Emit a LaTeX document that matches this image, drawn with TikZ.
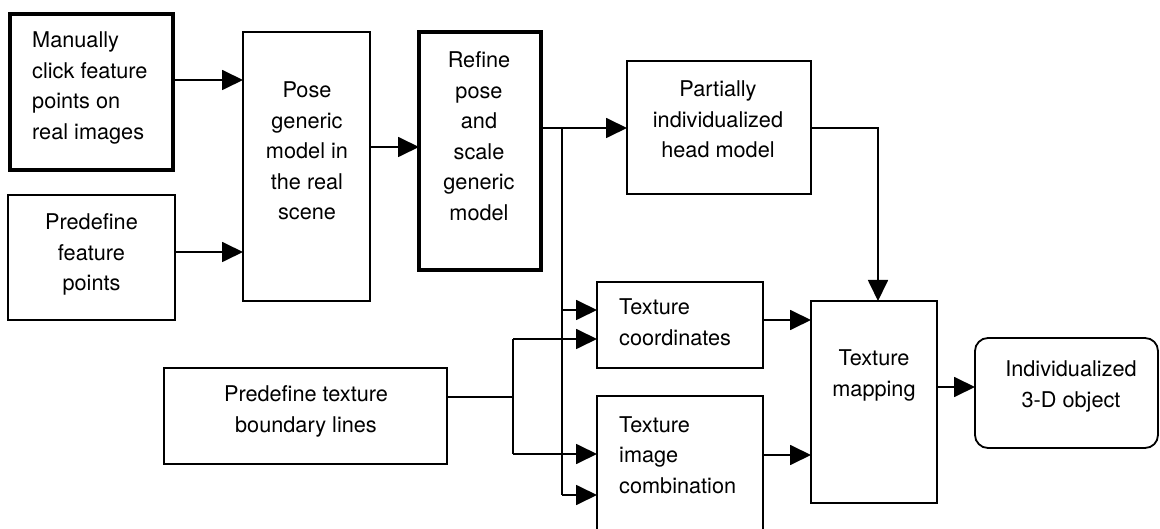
\documentclass[tikz,border=0pt]{standalone}
\usepackage{fontspec}
\setmainfont{TeX Gyre Heros}
\usetikzlibrary{arrows.meta}
% multi-line labels whose reference point is the first baseline
\newcommand{\stackc}[1]{\begin{tabular}[t]{@{}c@{}}#1\end{tabular}}
\newcommand{\stackl}[1]{\begin{tabular}[t]{@{}l@{}}#1\end{tabular}}
\begin{document}
\begin{tikzpicture}[x=1pt,y=-1pt,
  box/.style={draw, line width=1.8pt, inner sep=0pt, outer sep=0pt},
  heavybox/.style={box, line width=4.5pt},
  roundbox/.style={box, rounded corners=13pt},
  txt/.style={inner sep=0pt, anchor=base, font=\fontsize{21.7}{30.5}\selectfont},
  ltxt/.style={txt, anchor=base west},
  conn/.style={line width=1.8pt},
  arr/.style={conn, -{Triangle[length=21pt,width=20pt]}}]
\useasboundingbox (0,0) rectangle (1160,529);

% process boxes
\node[heavybox, minimum width=163pt, minimum height=156pt] (click)  at (91.5,92)   {};
\node[box,      minimum width=167pt, minimum height=125pt] (pfeat)  at (91.5,257.5){};
\node[box,      minimum width=127pt, minimum height=269pt] (pose)   at (306.5,166.5){};
\node[heavybox, minimum width=122pt, minimum height=238pt] (refine) at (480,151)  {};
\node[box,      minimum width=184pt, minimum height=133pt] (head)   at (719,127.5){};
\node[box,      minimum width=166pt, minimum height=86pt]  (tcoord) at (680,325)  {};
\node[box,      minimum width=166pt, minimum height=149pt] (timg)   at (680,470.5){};
\node[box,      minimum width=126pt, minimum height=202pt] (tmap)   at (874,402)  {};
\node[roundbox, minimum width=183pt, minimum height=110pt] (obj)    at (1066.5,393){};
\node[box,      minimum width=283pt, minimum height=96pt]  (tbound) at (305.5,416){};

% labels
\node[ltxt] (lclick) at (32,48)    {\stackl{Manually\\click feature\\points on\\real images}};
\node[txt] (lpfeat)  at (91.5,230) {\stackc{Predefine\\feature\\points}};
\node[txt] (lpose)   at (307,98)   {\stackc{Pose\\generic\\model in\\the real\\scene}};
\node[txt] (lrefine) at (479,68)   {\stackc{Refine\\pose\\and\\scale\\generic\\model}};
\node[txt] (lhead)   at (718,97)   {\stackc{Partially\\individualized\\head model}};
\node[ltxt] (ltcoord) at (619,315) {\stackl{Texture\\coordinates}};
\node[ltxt] (ltimg)   at (619,432) {\stackl{Texture\\image\\combination}};
\node[txt] (ltmap)   at (874,366)  {\stackc{Texture\\mapping}};
\node[txt] (lobj)    at (1071,377) {\stackc{Individualized\\3-D object}};
\node[txt] (ltbound) at (306,402)  {\stackc{Predefine texture\\boundary lines}};

% junction points of the branching lines
\coordinate (splitR) at (562,128);
\coordinate (splitT) at (513,397);
\coordinate (headR)  at (878,128);

% connectors
\draw[arr] (click.east |- 0,80)  -- (pose.west |- 0,80);
\draw[arr] (pfeat.east |- 0,252) -- (pose.west |- 0,252);
\draw[arr] (pose.east |- 0,147)  -- (refine.west |- 0,147);
\draw[arr] (refine.east |- splitR) -- (head.west |- splitR);
\draw[conn] (splitR) -- (splitR |- 0,495);
\draw[arr] (splitR |- 0,310) -- (tcoord.west |- 0,310);
\draw[arr] (splitR |- 0,495) -- (timg.west |- 0,495);
\draw[conn] (tbound.east |- splitT) -- (splitT);
\draw[conn] (splitT |- 0,339) -- (splitT |- 0,454);
\draw[arr] (splitT |- 0,339) -- (tcoord.west |- 0,339);
\draw[arr] (splitT |- 0,454) -- (timg.west |- 0,454);
\draw[arr] (head.east |- headR) -- (headR) -- (tmap.north -| headR);
\draw[arr] (tcoord.east |- 0,320) -- (tmap.west |- 0,320);
\draw[arr] (timg.east |- 0,455)   -- (tmap.west |- 0,455);
\draw[arr] (tmap.east |- 0,387)   -- (obj.west |- 0,387);
\end{tikzpicture}
\end{document}
